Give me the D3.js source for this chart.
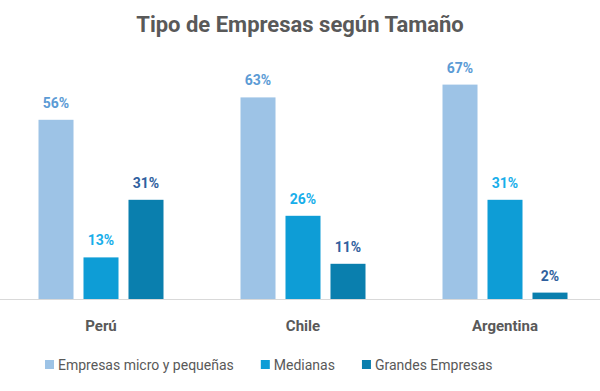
<!DOCTYPE html>
<html>
<head>
<meta charset="utf-8">
<script src="https://cdn.jsdelivr.net/npm/d3@7"></script>
<style>
  body { margin: 0; background: #fff; }
  svg { display: block; font-family: Roboto, "Liberation Sans", sans-serif; }
</style>
</head>
<body>
<svg id="chart" width="600" height="391"></svg>
<script>
// datos
var paises = ["Perú", "Chile", "Argentina"];
var series = ["Empresas micro y pequeñas", "Medianas", "Grandes Empresas"];
var microPeq = [56, 63, 67];
var medianas = [13, 26, 31];
var grandes = [31, 11, 2];

var colores = ["#9dc3e6", "#0e9dd6", "#0a7fae"];
var coloresEtiqueta = ["#5b9bd5", "#17aeea", "#2f5f9e"];

var svg = d3.select("#chart");
var width = 600, height = 391;
var baseY = 299;

var valores = [microPeq, medianas, grandes];
var data = paises.map(function(p, i) {
    return { pais: p, vals: series.map(function(s, j) { return { key: s, idx: j, val: valores[j][i] }; }) };
});

var x0 = d3.scaleBand()
    .domain(paises)
    .range([0, 606]);
var x1 = d3.scaleBand()
    .domain(series)
    .range([0, 125])
    .paddingInner(0.222);
var y = d3.scaleLinear()
    .domain([0, 70])
    .range([baseY, baseY - 224]);

// titulo
svg.append("text")
    .attr("x", width / 2)
    .attr("y", 32)
    .attr("text-anchor", "middle")
    .style("font-size", "22px")
    .style("font-weight", "bold")
    .style("fill", "#595959")
    .text("Tipo de Empresas según Tamaño");

// eje
svg.append("line")
    .attr("x1", 0).attr("x2", width)
    .attr("y1", baseY + 0.5).attr("y2", baseY + 0.5)
    .attr("stroke", "#d9d9d9")
    .attr("stroke-width", 1);

var grupos = svg.append("g")
    .selectAll("g")
    .data(data)
    .enter().append("g")
    .attr("transform", function(d) {
        return "translate(" + (x0(d.pais) + (x0.bandwidth() - 125) / 2) + ",0)";
    });

grupos.selectAll("rect")
    .data(function(d) { return d.vals; })
    .enter().append("rect")
    .attr("x", function(d) { return x1(d.key); })
    .attr("y", function(d) { return y(d.val); })
    .attr("width", x1.bandwidth())
    .attr("height", function(d) { return baseY - y(d.val); })
    .attr("fill", function(d) { return colores[d.idx]; });

grupos.selectAll("text.lbl")
    .data(function(d) { return d.vals; })
    .enter().append("text")
    .attr("class", "lbl")
    .attr("x", function(d) { return x1(d.key) + x1.bandwidth() / 2; })
    .attr("y", function(d) { return y(d.val) - 12; })
    .attr("text-anchor", "middle")
    .style("font-size", "14px")
    .style("font-weight", "bold")
    .style("fill", function(d) { return coloresEtiqueta[d.idx]; })
    .text(function(d) { return d.val + "%"; });

// etiquetas de categoria
svg.append("g")
    .selectAll("text")
    .data(paises)
    .enter().append("text")
    .attr("x", function(d) { return x0(d) + x0.bandwidth() / 2; })
    .attr("y", 331)
    .attr("text-anchor", "middle")
    .style("font-size", "15px")
    .style("font-weight", "bold")
    .style("fill", "#595959")
    .text(function(d) { return d; });

// leyenda
var leyenda = svg.append("g");
var items = leyenda.selectAll("g")
    .data(series)
    .enter().append("g");
items.append("rect")
    .attr("width", 9).attr("height", 9)
    .attr("y", 360)
    .attr("fill", function(d, i) { return colores[i]; });
items.append("text")
    .attr("x", 13)
    .attr("y", 370)
    .style("font-size", "14px")
    .style("fill", "#595959")
    .text(function(d) { return d; });

var pos = 0, gap = 27;
items.each(function() {
    var w = 13 + d3.select(this).select("text").node().getComputedTextLength();
    d3.select(this).attr("transform", "translate(" + pos + ",0)");
    pos += w + gap;
});
leyenda.attr("transform", "translate(45,0)");
</script>
</body>
</html>
